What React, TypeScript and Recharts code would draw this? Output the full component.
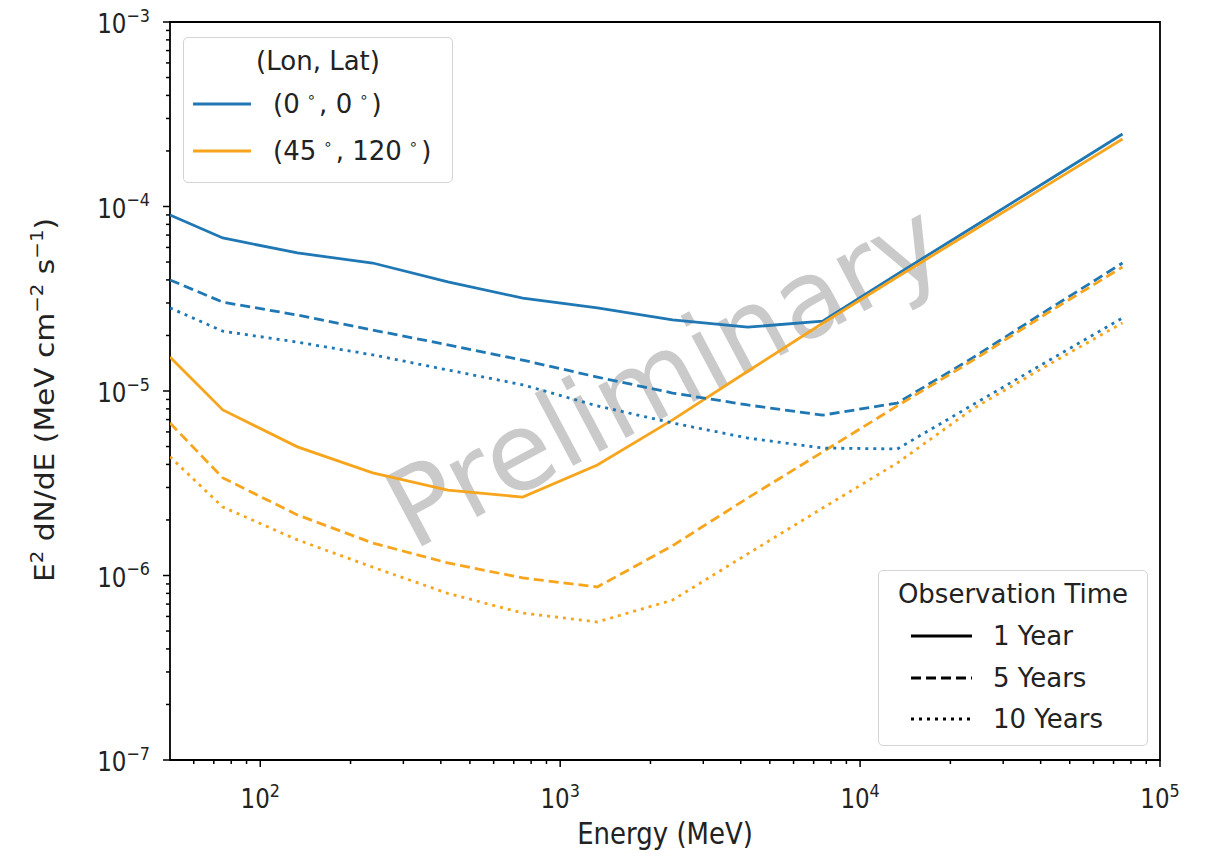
import React from "react";
import {
  LineChart,
  Line,
  XAxis,
  YAxis,
  ReferenceArea,
  Legend,
  Customized,
} from "recharts";

// ---------- data ----------
const energies = [50, 75, 133, 237, 422, 750, 1330, 2370, 4220, 7500, 13300, 23700, 42200, 75000];

const blue1yr = [9.0e-5, 6.75e-5, 5.6e-5, 4.94e-5, 3.9e-5, 3.19e-5, 2.82e-5, 2.43e-5, 2.22e-5, 2.39e-5, 4.3e-5, 7.7e-5, 1.38e-4, 2.47e-4];
const blue5yr = [4.0e-5, 3.03e-5, 2.58e-5, 2.14e-5, 1.78e-5, 1.47e-5, 1.19e-5, 9.75e-6, 8.4e-6, 7.4e-6, 8.6e-6, 1.51e-5, 2.75e-5, 4.94e-5];
const blue10yr = [2.82e-5, 2.11e-5, 1.84e-5, 1.57e-5, 1.3e-5, 1.08e-5, 8.3e-6, 6.71e-6, 5.56e-6, 4.91e-6, 4.85e-6, 8.4e-6, 1.45e-5, 2.49e-5];
const orange1yr = [1.53e-5, 7.9e-6, 4.98e-6, 3.6e-6, 2.9e-6, 2.66e-6, 3.97e-6, 6.97e-6, 1.28e-5, 2.33e-5, 4.15e-5, 7.36e-5, 1.31e-4, 2.32e-4];
const orange5yr = [6.7e-6, 3.38e-6, 2.13e-6, 1.5e-6, 1.17e-6, 9.7e-7, 8.67e-7, 1.45e-6, 2.63e-6, 4.67e-6, 8.3e-6, 1.46e-5, 2.65e-5, 4.7e-5];
const orange10yr = [4.4e-6, 2.35e-6, 1.56e-6, 1.11e-6, 8.0e-7, 6.26e-7, 5.6e-7, 7.36e-7, 1.31e-6, 2.32e-6, 4.07e-6, 7.98e-6, 1.38e-5, 2.34e-5];

const xMajorTicks = [100, 1000, 10000, 100000];
const xMinorTicks = [
  60, 70, 80, 90,
  200, 300, 400, 500, 600, 700, 800, 900,
  2000, 3000, 4000, 5000, 6000, 7000, 8000, 9000,
  20000, 30000, 40000, 50000, 60000, 70000, 80000, 90000,
];
const yMajorTicks = [1e-7, 1e-6, 1e-5, 1e-4, 1e-3];
const yMinorTicks = [
  2e-7, 3e-7, 4e-7, 5e-7, 6e-7, 7e-7, 8e-7, 9e-7,
  2e-6, 3e-6, 4e-6, 5e-6, 6e-6, 7e-6, 8e-6, 9e-6,
  2e-5, 3e-5, 4e-5, 5e-5, 6e-5, 7e-5, 8e-5, 9e-5,
  2e-4, 3e-4, 4e-4, 5e-4, 6e-4, 7e-4, 8e-4, 9e-4,
];

const locationLon = ["0", "45"];
const locationLat = ["0", "120"];
const obsTimes = ["1 Year", "5 Years", "10 Years"];

// ---------- styles ----------
const BLUE = "#1f77b4";
const ORANGE = "#f7a51c";
const FONT = "DejaVu Sans, sans-serif";
const DASH = "10 5";
const DOT = "3 5";
const LW = 2.8;
const STRETCH = 1.15;

const W = 1200;
const H = 843;

const data = energies.map((e, i) => ({
  E: e,
  b1: blue1yr[i],
  b5: blue5yr[i],
  b10: blue10yr[i],
  o1: orange1yr[i],
  o5: orange5yr[i],
  o10: orange10yr[i],
}));

const isMajor = (v: number) => Math.abs(Math.log10(v) - Math.round(Math.log10(v))) < 1e-6;

const XTick = (props: any) => {
  const { x, y, payload } = props;
  const v = payload.value;
  const major = isMajor(v);
  const exp = Math.round(Math.log10(v));
  return (
    <g>
      <line x1={x} x2={x} y1={y} y2={y + (major ? 7 : 4)} stroke="#000" strokeWidth={1.5} />
      {major && (
        <text
          transform={`translate(${x},${y + 48}) scale(1,${STRETCH})`}
          textAnchor="middle"
          fontSize={23}
          fontFamily={FONT}
          fill="#222"
        >
          <tspan>10</tspan>
          <tspan dy={-10} fontSize={16}>{String(exp)}</tspan>
        </text>
      )}
    </g>
  );
};

const YTick = (props: any) => {
  const { x, y, payload } = props;
  const v = payload.value;
  const major = isMajor(v);
  const exp = Math.round(Math.log10(v));
  return (
    <g>
      <line x1={x} x2={x - (major ? 7 : 4)} y1={y} y2={y} stroke="#000" strokeWidth={1.5} />
      {major && (
        <text
          transform={`translate(${x - 20},${y + 11}) scale(1,${STRETCH})`}
          textAnchor="end"
          fontSize={23}
          fontFamily={FONT}
          fill="#222"
        >
          <tspan>10</tspan>
          <tspan dy={-10} fontSize={16}>{"\u2212" + String(-exp)}</tspan>
        </text>
      )}
    </g>
  );
};

const Decorations = () => (
  <g>
    <text
      x={674}
      y={400}
      textAnchor="middle"
      fontSize={108}
      fontFamily={FONT}
      fill="#808080"
      fillOpacity={0.42}
      transform="rotate(-28 674 400)"
    >
      Preliminary
    </text>
    <text
      transform="translate(46 392) rotate(-90) scale(1.1 1)"
      textAnchor="middle"
      fontSize={27}
      fontFamily={FONT}
      fill="#222"
    >
      <tspan>E</tspan>
      <tspan dy={-11} fontSize={18}>2</tspan>
      <tspan dy={11}> dN/dE (MeV cm</tspan>
      <tspan dy={-11} fontSize={18}>{"\u22122"}</tspan>
      <tspan dy={11}> s</tspan>
      <tspan dy={-11} fontSize={18}>{"\u22121"}</tspan>
      <tspan dy={11}>)</tspan>
    </text>
    <text
      transform={`translate(657 836) scale(1 ${STRETCH})`}
      textAnchor="middle"
      fontSize={26}
      fontFamily={FONT}
      fill="#222"
    >
      Energy (MeV)
    </text>
  </g>
);

const boxStyle: React.CSSProperties = {
  position: "absolute",
  border: "1.5px solid #d4d4d4",
  borderRadius: 5,
  background: "rgba(255,255,255,0.85)",
  fontFamily: FONT,
  fontSize: 26,
  lineHeight: "32px",
  color: "#222",
  boxSizing: "border-box",
};

const Sample = ({ color, dash, width }: { color: string; dash?: string; width: number }) => (
  <svg width={width} height={8} style={{ position: "absolute", left: 0, top: 0, overflow: "visible" }}>
    <line x1={0} x2={width} y1={4} y2={4} stroke={color} strokeWidth={LW} strokeDasharray={dash} />
  </svg>
);

const Deg = () => (
  <span style={{ fontSize: 15, position: "relative", top: -11, margin: "0 3px 0 7px" }}>{"\u2218"}</span>
);

const LegendBoxes = () => {
  const locColors = [BLUE, ORANGE];
  const obsDash = [undefined, DASH, DOT];
  return (
    <div style={{ position: "relative", width: W, height: H }}>
      <div style={{ ...boxStyle, left: 175, top: 29, width: 270, height: 146 }}>
        <div style={{ position: "absolute", left: 0, width: 268, top: 23 - 16, textAlign: "center" }}>(Lon, Lat)</div>
        {locationLon.map((lon, i) => {
          const cy = 66 + i * 47;
          return (
            <React.Fragment key={lon}>
              <div style={{ position: "absolute", left: 9, top: cy - 4 }}>
                <Sample color={locColors[i]} width={58} />
              </div>
              <div style={{ position: "absolute", left: 89, top: cy - 16, whiteSpace: "nowrap" }}>
                ({lon}
                <Deg />, {locationLat[i]}
                <Deg />)
              </div>
            </React.Fragment>
          );
        })}
      </div>
      <div style={{ ...boxStyle, left: 870, top: 562, width: 270, height: 176 }}>
        <div style={{ position: "absolute", left: 0, width: 268, top: 23 - 16, textAlign: "center" }}>Observation Time</div>
        {obsTimes.map((t, i) => {
          const cy = 65 + i * 41.5;
          return (
            <React.Fragment key={t}>
              <div style={{ position: "absolute", left: 32, top: cy - 4 }}>
                <Sample color="#000" dash={obsDash[i]} width={61} />
              </div>
              <div style={{ position: "absolute", left: 114, top: cy - 16, whiteSpace: "nowrap" }}>{t}</div>
            </React.Fragment>
          );
        })}
      </div>
    </div>
  );
};

export default function App() {
  return (
    <div>
      <style>{`.recharts-surface { overflow: visible; }`}</style>
      <LineChart width={W} height={H} data={data} margin={{ top: 14, right: 48, left: 0, bottom: 0 }}>
        <XAxis
          dataKey="E"
          type="number"
          scale="log"
          domain={[50, 100000]}
          allowDataOverflow
          ticks={[...xMinorTicks, ...xMajorTicks]}
          interval={0}
          tick={<XTick />}
          tickLine={false}
          tickSize={0}
          tickMargin={0}
          axisLine={false}
          height={91}
        />
        <YAxis
          type="number"
          scale="log"
          domain={[1e-7, 1e-3]}
          allowDataOverflow
          ticks={[...yMinorTicks, ...yMajorTicks]}
          interval={0}
          tick={<YTick />}
          tickLine={false}
          tickSize={0}
          tickMargin={0}
          axisLine={false}
          width={162}
        />
        <Line dataKey="b1" stroke={BLUE} strokeWidth={LW} dot={false} activeDot={false} isAnimationActive={false} />
        <Line dataKey="o1" stroke={ORANGE} strokeWidth={LW} dot={false} activeDot={false} isAnimationActive={false} />
        <Line dataKey="b5" stroke={BLUE} strokeWidth={LW} strokeDasharray={DASH} dot={false} activeDot={false} isAnimationActive={false} />
        <Line dataKey="o5" stroke={ORANGE} strokeWidth={LW} strokeDasharray={DASH} dot={false} activeDot={false} isAnimationActive={false} />
        <Line dataKey="b10" stroke={BLUE} strokeWidth={LW} strokeDasharray={DOT} dot={false} activeDot={false} isAnimationActive={false} />
        <Line dataKey="o10" stroke={ORANGE} strokeWidth={LW} strokeDasharray={DOT} dot={false} activeDot={false} isAnimationActive={false} />
        <ReferenceArea x1={50} x2={100000} y1={1e-7} y2={1e-3} fill="none" stroke="#000" strokeWidth={1.8} ifOverflow="visible" />
        <Customized component={<Decorations />} />
        <Legend
          layout="vertical"
          align="center"
          verticalAlign="middle"
          wrapperStyle={{ position: "absolute", left: 0, top: 0, width: W, height: H, pointerEvents: "none" }}
          content={() => <LegendBoxes />}
        />
      </LineChart>
    </div>
  );
}
